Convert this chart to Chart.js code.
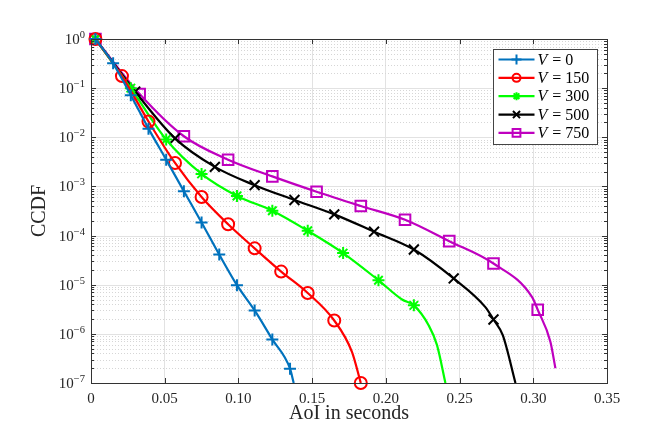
<!DOCTYPE html>
<html>
<head>
<meta charset="utf-8">
<title>CCDF de AoI</title>
<script src="https://cdn.jsdelivr.net/npm/chart.js@4.4.1/dist/chart.umd.min.js"></script>
<style>
    html, body { margin: 0; padding: 0; background: #fff; }
    #wrap { width: 664px; height: 431px; }
</style>
</head>
<body>
<div id="wrap"><canvas id="ccdfChart" width="664" height="431"></canvas></div>
<script>
// Valores (AoI en segundos vs CCDF)
const seriesLabels = ['V = 0', 'V = 150', 'V = 300', 'V = 500', 'V = 750'];

// Puntos con marcador
const markX0 = [0.003, 0.015, 0.027, 0.039, 0.051, 0.063, 0.075, 0.087, 0.099, 0.111, 0.123, 0.135];
const markY0 = [1, 0.32, 0.072, 0.015, 0.0035, 8e-4, 1.85e-4, 4.1e-5, 9.8e-6, 3e-6, 7.7e-7, 1.96e-7];
const markX150 = [0.003, 0.021, 0.039, 0.057, 0.075, 0.093, 0.111, 0.129, 0.147, 0.165, 0.183];
const markY150 = [1, 0.176, 0.021, 0.003, 6.1e-4, 1.7e-4, 5.5e-5, 1.85e-5, 6.8e-6, 1.87e-6, 1e-7];
const markX300 = [0.003, 0.027, 0.051, 0.075, 0.099, 0.123, 0.147, 0.171, 0.195, 0.219];
const markY300 = [1, 0.1, 0.009, 0.0018, 6.4e-4, 3.2e-4, 1.25e-4, 4.4e-5, 1.23e-5, 3.8e-6];
const markX500 = [0.003, 0.030, 0.057, 0.084, 0.111, 0.138, 0.165, 0.192, 0.219, 0.246, 0.273];
const markY500 = [1, 0.085, 0.0095, 0.0025, 1.06e-3, 5.3e-4, 2.7e-4, 1.2e-4, 5.2e-5, 1.34e-5, 1.96e-6];
const markX750 = [0.003, 0.033, 0.063, 0.093, 0.123, 0.153, 0.183, 0.213, 0.243, 0.273, 0.303];
const markY750 = [1, 0.076, 0.0105, 0.0035, 0.0016, 7.8e-4, 4.0e-4, 2.1e-4, 7.7e-5, 2.7e-5, 3.1e-6];

// Puntos extra de la curva (sin marcador)
const curveX0 = [0.1375];
const curveY0 = [1e-7];
const curveX150 = [0.177];
const curveY150 = [4.3e-7];
const curveX300 = [0.211, 0.229, 0.2347, 0.2404];
const curveY300 = [5.0e-6, 1.5e-6, 5.9e-7, 1e-7];
const curveX500 = [0.2675, 0.2793, 0.2879];
const curveY500 = [3.5e-6, 9.4e-7, 1e-7];
const curveX750 = [0.2992, 0.3116, 0.315];
const curveY750 = [5.6e-6, 6.9e-7, 2e-7];

// Ejes
const xTicks = [0, 0.05, 0.1, 0.15, 0.2, 0.25, 0.3, 0.35];
const yTickExponents = [0, -1, -2, -3, -4, -5, -6, -7];

// Estilos
const serif = '"Liberation Serif", "Times New Roman", serif';
const seriesColors = ['#0072BD', '#FF0000', '#00FF00', '#000000', '#BF00BF'];
const seriesPointStyles = ['cross', 'circle', 'star', 'crossRot', 'rect'];
const seriesPointRadius = [6, 6, 6, 7, 7.5];
const legendPointRadius = [5, 4, 4, 5, 5.5];

const markXs = [markX0, markX150, markX300, markX500, markX750];
const markYs = [markY0, markY150, markY300, markY500, markY750];
const curveXs = [curveX0, curveX150, curveX300, curveX500, curveX750];
const curveYs = [curveY0, curveY150, curveY300, curveY500, curveY750];

function toPoints(xs, ys) {
    return xs.map((x, i) => ({ x: x, y: ys[i] }));
}

const datasets = [];
seriesLabels.forEach((label, i) => {
    const marks = toPoints(markXs[i], markYs[i]);
    const curve = marks.concat(toPoints(curveXs[i], curveYs[i])).sort((a, b) => a.x - b.x);
    datasets.push({
        label: label,
        data: curve,
        borderColor: seriesColors[i],
        borderWidth: 2.2,
        pointRadius: 0,
        cubicInterpolationMode: 'monotone',
        fill: false
    });
    datasets.push({
        label: label + ' marcadores',
        data: marks,
        showLine: false,
        pointStyle: seriesPointStyles[i],
        pointRadius: seriesPointRadius[i],
        pointBorderWidth: 2,
        pointBorderColor: seriesColors[i],
        pointBackgroundColor: 'rgba(0,0,0,0)',
        clip: false
    });
});

function strokeLine(ctx, x1, y1, x2, y2) {
    ctx.beginPath();
    ctx.moveTo(x1, y1);
    ctx.lineTo(x2, y2);
    ctx.stroke();
}

// Rejilla del eje logarítmico (mayor sólida, menor punteada)
const gridPlugin = {
    id: 'logGrid',
    beforeDatasetsDraw(chart) {
        const { ctx, chartArea: a, scales: { y } } = chart;
        ctx.save();
        ctx.lineWidth = 1;
        yTickExponents.forEach(e => {
            if (e < 0) {
                ctx.strokeStyle = '#d6d6d6';
                ctx.setLineDash([1, 2]);
                for (let m = 2; m <= 9; m++) {
                    const py = Math.round(y.getPixelForValue(m * Math.pow(10, e))) + 0.5;
                    strokeLine(ctx, a.left, py, a.right, py);
                }
            }
            ctx.setLineDash([]);
            ctx.strokeStyle = '#e2e2e2';
            const py = Math.round(y.getPixelForValue(Math.pow(10, e))) + 0.5;
            strokeLine(ctx, a.left, py, a.right, py);
        });
        ctx.restore();
    }
};

// Caja, marcas internas, etiquetas del eje Y, títulos y leyenda
const framePlugin = {
    id: 'matlabFrame',
    afterDatasetsDraw(chart) {
        const { ctx, chartArea: a, scales: { x, y } } = chart;
        ctx.save();
        ctx.strokeStyle = '#333';
        ctx.lineWidth = 1;
        ctx.setLineDash([]);

        // marcas X arriba y abajo
        xTicks.forEach(v => {
            const px = Math.round(x.getPixelForValue(v)) + 0.5;
            strokeLine(ctx, px, a.bottom, px, a.bottom - 5);
            strokeLine(ctx, px, a.top, px, a.top + 5);
        });
        // marcas Y izquierda y derecha
        yTickExponents.forEach(e => {
            const py = Math.round(y.getPixelForValue(Math.pow(10, e))) + 0.5;
            strokeLine(ctx, a.left, py, a.left + 5, py);
            strokeLine(ctx, a.right, py, a.right - 5, py);
            if (e < 0) {
                for (let m = 2; m <= 9; m++) {
                    const pm = Math.round(y.getPixelForValue(m * Math.pow(10, e))) + 0.5;
                    strokeLine(ctx, a.left, pm, a.left + 3, pm);
                    strokeLine(ctx, a.right, pm, a.right - 3, pm);
                }
            }
        });
        ctx.strokeRect(Math.round(a.left) + 0.5, Math.round(a.top) + 0.5,
            Math.round(a.right - a.left), Math.round(a.bottom - a.top));

        // etiquetas 10^k
        ctx.fillStyle = '#262626';
        yTickExponents.forEach(e => {
            const py = y.getPixelForValue(Math.pow(10, e));
            const sup = e === 0 ? '0' : '\u2212' + (-e);
            ctx.font = '10.5px ' + serif;
            const sw = ctx.measureText(sup).width;
            const right = a.left - 6;
            ctx.textAlign = 'left';
            ctx.textBaseline = 'alphabetic';
            ctx.fillText(sup, right - sw, py - 1);
            ctx.font = '15px ' + serif;
            ctx.textAlign = 'right';
            ctx.fillText('10', right - sw, py + 5);
        });

        // títulos de ejes
        ctx.font = '20px ' + serif;
        ctx.textAlign = 'center';
        ctx.textBaseline = 'alphabetic';
        ctx.fillText('AoI in seconds', (a.left + a.right) / 2, 419);
        ctx.save();
        ctx.translate(45, (a.top + a.bottom) / 2);
        ctx.rotate(-Math.PI / 2);
        ctx.fillText('CCDF', 0, 0);
        ctx.restore();

        // leyenda
        const bw = 104, bh = 95;
        const bx = Math.round(a.right - 10 - bw) + 0.5;
        const by = Math.round(a.top + 10) + 0.5;
        ctx.fillStyle = '#fff';
        ctx.fillRect(bx, by, bw, bh);
        ctx.strokeStyle = '#444';
        ctx.lineWidth = 1;
        ctx.strokeRect(bx, by, bw, bh);
        seriesLabels.forEach((label, i) => {
            const ly = by + 10 + i * 18.35;
            ctx.strokeStyle = seriesColors[i];
            ctx.lineWidth = 2.2;
            strokeLine(ctx, bx + 5, ly, bx + 41, ly);
            ctx.fillStyle = 'rgba(0,0,0,0)';
            ctx.lineWidth = 2;
            Chart.helpers.drawPoint(ctx, {
                pointStyle: seriesPointStyles[i],
                radius: legendPointRadius[i],
                rotation: 0,
                borderWidth: 2
            }, bx + 23, ly);
            const parts = label.split(' = ');
            ctx.fillStyle = '#000';
            ctx.textAlign = 'left';
            ctx.textBaseline = 'middle';
            ctx.font = 'italic 16px ' + serif;
            ctx.fillText(parts[0], bx + 44, ly + 1);
            const vw = ctx.measureText(parts[0]).width;
            ctx.font = '16px ' + serif;
            ctx.fillText(' = ' + parts[1], bx + 44 + vw + 1, ly + 1);
        });
        ctx.restore();
    }
};

new Chart(document.getElementById('ccdfChart'), {
    type: 'line',
    data: { datasets: datasets },
    options: {
        responsive: false,
        animation: false,
        events: [],
        layout: { padding: { top: 39, right: 57, left: 0, bottom: 0 } },
        plugins: {
            legend: { display: false },
            tooltip: { enabled: false }
        },
        scales: {
            x: {
                type: 'linear',
                min: 0,
                max: 0.35,
                afterFit: scale => { scale.height = 48; },
                border: { display: false },
                grid: { color: '#e2e2e2', drawTicks: false },
                ticks: {
                    stepSize: 0.05,
                    padding: 7,
                    color: '#262626',
                    font: { family: serif, size: 15 }
                }
            },
            y: {
                type: 'logarithmic',
                min: 1e-7,
                max: 1,
                afterFit: scale => { scale.width = 91; },
                border: { display: false },
                grid: { display: false },
                ticks: { display: false }
            }
        }
    },
    plugins: [gridPlugin, framePlugin]
});
</script>
</body>
</html>
